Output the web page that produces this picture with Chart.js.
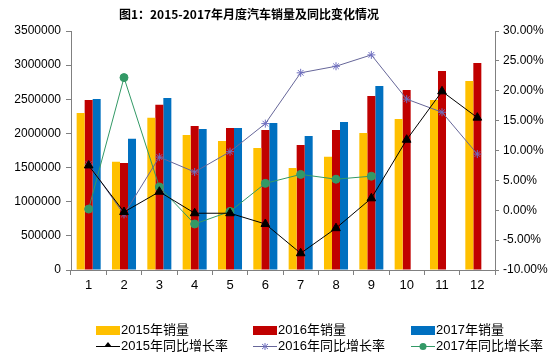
<!DOCTYPE html>
<html><head><meta charset="utf-8">
<script src="https://cdn.jsdelivr.net/npm/chart.js@4/dist/chart.umd.min.js"></script>
<style>
html,body{margin:0;padding:0;background:#fff;}
#wrap{position:relative;width:560px;height:364px;overflow:hidden;}
#title{position:absolute;left:99px;top:5px;width:300px;text-align:center;font:bold 12px 'Noto Sans CJK SC',sans-serif;color:#000;white-space:nowrap;}
.lg{position:absolute;font:13px 'Liberation Sans','Noto Sans CJK SC',sans-serif;color:#000;white-space:nowrap;line-height:15px;}
.lg svg{position:absolute;left:0;top:0;}
.lg span{position:absolute;left:25px;top:0;}
</style></head>
<body><div id="wrap"><canvas id="c" width="560" height="364"></canvas><div id="title">图1：2015-2017年月度汽车销量及同比变化情况</div></div>
<script>
const months = ['1','2','3','4','5','6','7','8','9','10','11','12'];
const sales2015 = [2300000,1586000,2230000,1977000,1889000,1787000,1494000,1659000,2006000,2211000,2490000,2768000];
const sales2016 = [2489000,1567000,2421000,2109000,2080000,2050000,1830000,2050000,2548000,2636000,2914000,3031000];
const sales2017 = [2505000,1923000,2519000,2065000,2080000,2153000,1962000,2167000,2694000,null,null,null];
const yoy2015 = [7.5,-0.3,3.1,-0.5,-0.5,-2.3,-7.2,-3.0,2.0,11.8,19.9,15.5];
const yoy2016 = [7.7,-0.7,8.9,6.4,9.8,14.5,23.0,24.1,26.0,18.6,16.4,9.4];
const yoy2017 = [0.2,22.2,3.9,-2.3,-0.2,4.5,6.0,5.2,5.7,null,null,null];
const seriesNames = ['2015年销量','2016年销量','2017年销量','2015年同比增长率','2016年同比增长率','2017年同比增长率'];
const leftTicks = {min:0,max:3500000,step:500000};
const rightTicks = {min:-10,max:30,step:5};

const cYellow='#FFC000', cRed='#C00000', cBlue='#0070C0', cBlack='#000000', cPurple='#666699', cPurplePt='#6E6EC0', cGreen='#339966';

Chart.defaults.font.family = "'Liberation Sans','Noto Sans CJK SC',sans-serif";
Chart.defaults.font.size = 12;
Chart.defaults.color = '#000';

const barCommon = {type:'bar', yAxisID:'y', order:2, categoryPercentage:0.68, barPercentage:1.0, borderWidth:0};
const lineCommon = {type:'line', yAxisID:'y1', order:1, borderWidth:1, tension:0, fill:false, spanGaps:false};

new Chart(document.getElementById('c'), {
  data:{
    labels:months,
    datasets:[
      {...barCommon, label:seriesNames[0], data:sales2015, backgroundColor:cYellow},
      {...barCommon, label:seriesNames[1], data:sales2016, backgroundColor:cRed},
      {...barCommon, label:seriesNames[2], data:sales2017, backgroundColor:cBlue},
      {...lineCommon, label:seriesNames[3], data:yoy2015, borderColor:cBlack, pointStyle:'triangle', pointRadius:5, pointBackgroundColor:cBlack, pointBorderColor:cBlack},
      {...lineCommon, label:seriesNames[4], data:yoy2016, borderColor:cPurple, pointStyle:'star', pointRadius:4, pointBorderColor:cPurplePt, pointBackgroundColor:cPurplePt, pointBorderWidth:1},
      {...lineCommon, label:seriesNames[5], data:yoy2017, borderColor:cGreen, pointStyle:'circle', pointRadius:4, pointBackgroundColor:cGreen, pointBorderColor:cGreen}
    ]
  },
  options:{
    responsive:false, animation:false, devicePixelRatio:1,
    layout:{padding:{top:31,bottom:69,left:0,right:0}},
    plugins:{legend:{display:false}, title:{display:false}, tooltip:{enabled:false}},
    scales:{
      x:{
        grid:{display:true, drawOnChartArea:false, drawTicks:true, tickLength:5, color:'#808080', offset:true},
        border:{color:'#808080', width:1},
        ticks:{padding:3, font:{size:13}},
        afterFit(s){ s.height = 25; }
      },
      y:{
        position:'left', min:leftTicks.min, max:leftTicks.max,
        ticks:{stepSize:leftTicks.step, padding:5, callback:v=>String(v), font:{size:12}},
        grid:{display:true, drawOnChartArea:false, tickLength:5, color:'#808080'},
        border:{color:'#808080', width:1},
        afterFit(s){ s.width = 71; }
      },
      y1:{
        position:'right', min:rightTicks.min, max:rightTicks.max,
        ticks:{stepSize:rightTicks.step, padding:4, callback:v=>Number(v).toFixed(2)+'%', font:{size:12}},
        grid:{display:true, drawOnChartArea:false, tickLength:4, color:'#808080'},
        border:{color:'#808080', width:1},
        afterFit(s){ s.width = 65; }
      }
    }
  }
});

// HTML legend built from series names/colours
const wrap = document.getElementById('wrap');
const legendPos = [[96,322],[253,322],[411,322],[96,338],[253,338],[411,338]];
function markerSvg(i){
  if(i<3){
    const col=[cYellow,cRed,cBlue][i];
    return `<svg width="25" height="15"><rect x="0" y="4" width="24" height="9" fill="${col}"/></svg>`;
  }
  if(i===3){
    return `<svg width="25" height="15"><line x1="0" y1="8.5" x2="24" y2="8.5" stroke="${cBlack}" stroke-width="1"/><polygon points="12,4 16,9 8,9" fill="${cBlack}"/></svg>`;
  }
  if(i===4){
    return `<svg width="25" height="15"><line x1="0" y1="8.5" x2="24" y2="8.5" stroke="${cPurple}" stroke-width="1"/><g stroke="${cPurplePt}" stroke-width="1"><line x1="12" y1="5" x2="12" y2="12"/><line x1="9" y1="6" x2="15" y2="11"/><line x1="15" y1="6" x2="9" y2="11"/></g></svg>`;
  }
  return `<svg width="25" height="15"><line x1="0" y1="8.5" x2="24" y2="8.5" stroke="${cGreen}" stroke-width="1"/><circle cx="12" cy="8.5" r="3.5" fill="${cGreen}"/></svg>`;
}
seriesNames.forEach((n,i)=>{
  const d=document.createElement('div');
  d.className='lg';
  d.style.left=legendPos[i][0]+'px';
  d.style.top=legendPos[i][1]+'px';
  d.style.width='160px'; d.style.height='15px';
  d.innerHTML=markerSvg(i)+`<span>${n}</span>`;
  wrap.appendChild(d);
});
</script>
</body></html>
